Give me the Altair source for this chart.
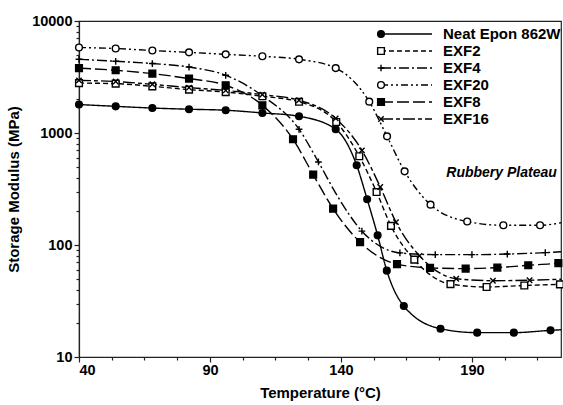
import altair as alt
import pandas as pd

# ---- data ----
series_order = ["Neat Epon 862W", "EXF2", "EXF4", "EXF20", "EXF8", "EXF16"]

neat_T = [40, 54, 68, 82, 96, 110, 124, 138, 146, 150, 154, 157.5, 164, 178, 192, 206, 220, 224]
neat_E = [1795, 1730, 1670, 1630, 1597, 1510, 1410, 1080, 515, 256, 122, 59, 28.5, 17.9, 16.5, 16.5, 17.3, 17.5]
neat_M = [1, 1, 1, 1, 1, 1, 1, 1, 1, 1, 1, 1, 1, 1, 1, 1, 1, 0]

exf2_T = [40, 54, 68, 82, 96, 110, 124, 138.2, 147, 153.6, 159.1, 168, 181.8, 195.6, 210, 223.6]
exf2_E = [2790, 2760, 2610, 2440, 2320, 2130, 1900, 1254, 620, 297, 148, 74, 44.7, 42.2, 43.5, 44.5]
exf2_M = [1, 1, 1, 1, 1, 1, 1, 1, 1, 1, 1, 1, 1, 1, 1, 1]

exf4_T = [40, 54, 68, 82, 96, 110, 124, 131.4, 139, 148, 162.5, 176, 190, 203.5, 218, 224]
exf4_E = [4550, 4370, 4170, 3880, 3275, 2150, 1080, 551, 265, 133, 85, 82, 82, 83, 85.5, 87]
exf4_M = [1, 1, 1, 1, 1, 0, 1, 1, 0, 1, 1, 1, 1, 1, 1, 0]

exf20_T = [40, 54, 68, 82, 96, 110, 124, 138, 150.8, 157.6, 164.3, 174.2, 188.2, 202, 216, 224]
exf20_E = [5800, 5680, 5450, 5250, 5040, 4840, 4550, 3800, 1905, 933, 455, 229, 162, 150, 150, 158]
exf20_M = [1, 1, 1, 1, 1, 1, 1, 1, 1, 1, 1, 1, 1, 1, 1, 0]

exf8_T = [40, 54, 68, 82, 96, 110, 121.7, 129.4, 137, 147.3, 161.4, 174, 187.6, 199.7, 211.5, 223, 224]
exf8_E = [3800, 3630, 3390, 3060, 2670, 1767, 880, 425, 211, 106, 67.5, 62.5, 61.5, 62.9, 65.9, 69, 69.5]
exf8_M = [1, 1, 1, 1, 1, 1, 1, 1, 1, 1, 1, 1, 1, 1, 1, 1, 0]

exf16_T = [40, 54, 68, 82, 96, 110, 124, 138, 148, 155, 161, 170, 184, 198, 212, 224]
exf16_E = [2950, 2880, 2720, 2540, 2400, 2200, 1960, 1350, 700, 330, 160, 80, 50, 48, 48.5, 49.5]
exf16_M = [1, 1, 1, 1, 1, 1, 1, 1, 1, 1, 1, 1, 1, 1, 1, 0]

x_major = [40, 90, 140, 190]
x_minor = [52.5, 65, 77.5, 102.5, 115, 127.5, 152.5, 165, 177.5, 202.5, 215]
y_major = [10, 100, 1000, 10000]
y_minor = [m * 10 ** k for k in (1, 2, 3) for m in range(2, 10)]

annot_text = ["Rubbery Plateau"]
annot_T = [201.3]
annot_E = [405]

# ---- build table ----
parts = []
for name, T, E, M in [
    ("Neat Epon 862W", neat_T, neat_E, neat_M),
    ("EXF2", exf2_T, exf2_E, exf2_M),
    ("EXF4", exf4_T, exf4_E, exf4_M),
    ("EXF20", exf20_T, exf20_E, exf20_M),
    ("EXF8", exf8_T, exf8_E, exf8_M),
    ("EXF16", exf16_T, exf16_E, exf16_M),
]:
    parts.append(pd.DataFrame({"series": name, "T": T, "E": E, "marker": M}))
df = pd.concat(parts, ignore_index=True)
legend_df = pd.DataFrame({"series": series_order})
annot_df = pd.DataFrame({"text": annot_text, "T": annot_T, "E": annot_E})

plus_path = "M-1,0L1,0M0,-1L0,1"
x_path = "M-0.8,-0.8L0.8,0.8M-0.8,0.8L0.8,-0.8"

dash_scale = alt.Scale(
    domain=series_order,
    range=[[1, 0], [5, 3], [10, 3, 2, 3], [7, 3, 2, 3, 2, 3], [12, 4], [12, 3, 4, 3]],
)
shape_scale = alt.Scale(
    domain=series_order,
    range=["circle", "square", plus_path, "circle", "square", x_path],
)
fill_scale = alt.Scale(
    domain=series_order,
    range=["black", "white", "white", "white", "black", "white"],
)
size_scale = alt.Scale(domain=series_order, range=[45, 46, 64, 48, 46, 54])

xscale = alt.Scale(domain=[40, 224], nice=False, zero=False)
yscale = alt.Scale(type="log", domain=[10, 10000], nice=False)

x_major_axis = alt.Axis(values=x_major, title="Temperature (°C)", tickSize=5,
                        labelPadding=1, titlePadding=9, format="d")
y_major_axis = alt.Axis(values=y_major, title="Storage Modulus (MPa)", tickSize=5,
                        labelPadding=2, titlePadding=10, format="d")
x_minor_axis = alt.Axis(values=x_minor, title=None, labels=False, tickSize=3, domain=False, orient="bottom")
y_minor_axis = alt.Axis(values=y_minor, title=None, labels=False, tickSize=3, domain=False, orient="left")

lines = alt.Chart(df).mark_line(interpolate="monotone", color="black", strokeWidth=1.4, clip=True).encode(
    x=alt.X("T:Q", scale=xscale, axis=x_major_axis),
    y=alt.Y("E:Q", scale=yscale, axis=y_major_axis),
    strokeDash=alt.StrokeDash("series:N", scale=dash_scale, legend=None),
    detail="series:N",
    order="T:Q",
)

points = alt.Chart(df).transform_filter("datum.marker == 1").mark_point(
    filled=True, stroke="black", strokeWidth=1.4, opacity=1
).encode(
    x=alt.X("T:Q", scale=xscale, axis=x_minor_axis),
    y=alt.Y("E:Q", scale=yscale, axis=y_minor_axis),
    shape=alt.Shape("series:N", scale=shape_scale, legend=None),
    fill=alt.Fill("series:N", scale=fill_scale, legend=None),
    size=alt.Size("series:N", scale=size_scale, legend=None),
)

annot = alt.Chart(annot_df).mark_text(
    font="Liberation Sans", fontSize=14, fontWeight="bold", fontStyle="italic",
    align="center", baseline="alphabetic", color="black"
).encode(
    x=alt.X("T:Q", scale=xscale, axis=None),
    y=alt.Y("E:Q", scale=yscale, axis=None),
    text="text:N",
)

plot = alt.layer(lines, points, annot).resolve_axis(x="independent", y="independent")

# legend placed inside plot area (pixel offsets from the plot's top-left corner)
ly = alt.Y("series:N", sort=series_order,
           scale=alt.Scale(type="point", domain=series_order, range=[13, 98], padding=0),
           axis=None)

leg_lines = alt.Chart(legend_df).mark_rule(color="black", strokeWidth=1.5).encode(
    x=alt.value(302), x2=alt.value(353), y=ly,
    strokeDash=alt.StrokeDash("series:N", scale=dash_scale, legend=None),
)
leg_points = alt.Chart(legend_df).mark_point(filled=True, stroke="black", strokeWidth=1.4, opacity=1).encode(
    x=alt.value(302), y=ly,
    shape=alt.Shape("series:N", scale=shape_scale, legend=None),
    fill=alt.Fill("series:N", scale=fill_scale, legend=None),
    size=alt.Size("series:N", scale=size_scale, legend=None),
)
leg_text = alt.Chart(legend_df).mark_text(
    font="Liberation Sans", fontSize=15, fontWeight="bold", align="left", baseline="middle", color="black"
).encode(x=alt.value(364), y=ly, text="series:N")

legend = alt.layer(leg_lines, leg_points, leg_text)

chart = alt.layer(plot, legend).resolve_scale(y="independent").properties(
    width=482, height=336,
    autosize=alt.AutoSizeParams(type="none"),
    padding={"left": 79, "top": 21, "right": 2, "bottom": 48},
    background="white",
).configure_view(stroke="#222", strokeWidth=1.2).configure_axis(
    grid=False, domainColor="#222", tickColor="#222", domainWidth=1.2, tickWidth=1.2,
    labelFont="Liberation Sans", labelFontSize=14.5, labelFontWeight="bold", labelColor="black",
    titleFont="Liberation Sans", titleFontSize=15, titleFontWeight="bold", titleColor="black",
)

chart.save("out.html", embed_options={"renderer": "svg", "actions": False})
